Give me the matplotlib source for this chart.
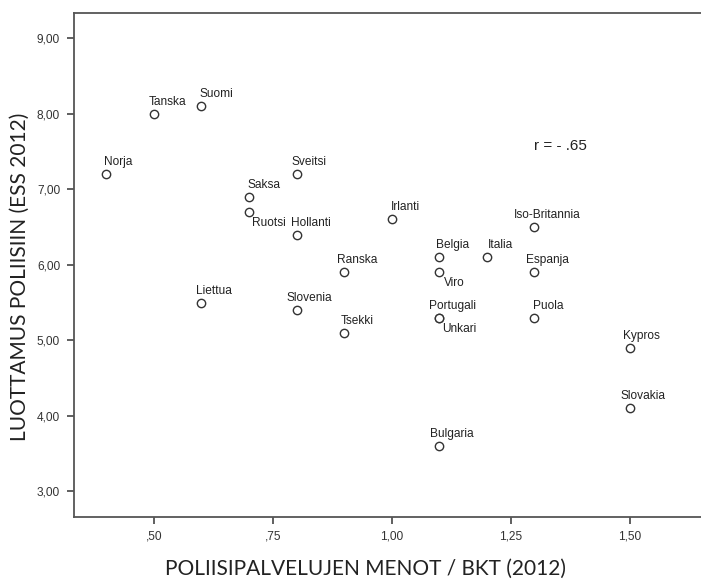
import matplotlib
matplotlib.use("Agg")
import matplotlib.pyplot as plt

countries = ["Norja", "Tanska", "Suomi", "Saksa", "Ruotsi", "Sveitsi", "Hollanti",
             "Liettua", "Slovenia", "Ranska", "Tsekki", "Irlanti", "Belgia", "Viro",
             "Portugali", "Unkari", "Italia", "Iso-Britannia", "Espanja", "Puola",
             "Kypros", "Slovakia", "Bulgaria"]
spending = [0.40, 0.50, 0.60, 0.70, 0.70, 0.80, 0.80,
            0.60, 0.80, 0.90, 0.90, 1.00, 1.10, 1.10,
            1.10, 1.10, 1.20, 1.30, 1.30, 1.30,
            1.50, 1.50, 1.10]
trust = [7.2, 8.0, 8.1, 6.9, 6.7, 7.2, 6.4,
         5.5, 5.4, 5.9, 5.1, 6.6, 6.1, 5.9,
         5.3, 5.3, 6.1, 6.5, 5.9, 5.3,
         4.9, 4.1, 3.6]
x_ticks = [0.50, 0.75, 1.00, 1.25, 1.50]
x_ticklabels = [",50", ",75", "1,00", "1,25", "1,50"]
y_ticks = [3, 4, 5, 6, 7, 8, 9]
y_ticklabels = ["3,00", "4,00", "5,00", "6,00", "7,00", "8,00", "9,00"]
r_text = "r = - .65"
x_title = "POLIISIPALVELUJEN MENOT / BKT (2012)"
y_title = "LUOTTAMUS POLIISIIN (ESS 2012)"

# label offsets in pixels (dx, dy) relative to the point; default above
offsets = {
    "Tanska": (-5, 12), "Ruotsi": (3, -11), "Viro": (5, -11), "Unkari": (3, -11),
    "Iso-Britannia": (-21, 12), "Portugali": (-10, 12), "Bulgaria": (-9, 12),
    "Kypros": (-7, 12), "Slovakia": (-9, 12), "Liettua": (-5, 12),
    "Slovenia": (-10, 12), "Ranska": (-7, 12), "Tsekki": (-3, 12),
    "Hollanti": (-6, 12), "Espanja": (-8, 12), "Sveitsi": (-5, 12),
    "Italia": (1, 12), "Irlanti": (-1, 12), "Belgia": (-3, 12), "Puola": (-1, 12),
}

W, H = 701, 581
fig = plt.figure(figsize=(W / 100, H / 100), dpi=100)
ax = fig.add_axes([74 / W, 1 - 516.7 / H, 1 - 74 / W + 0.01, (516.7 - 13.3) / H])

ax.plot(spending, trust, linestyle="none", marker="o", markersize=6,
        markerfacecolor="white", markeredgecolor="#333333", markeredgewidth=1.0)

for name, x, y in zip(countries, spending, trust):
    dx, dy = offsets.get(name, (-2, 12))
    ax.annotate(name, (x, y), xytext=(dx * 0.72, dy * 0.72), textcoords="offset points",
                ha="left", va="center", fontsize=8.6, family="Liberation Sans", color="#222222")

ax.text(1.30, 7.57, r_text, fontsize=11, family="Liberation Sans", color="#222222",
        ha="left", va="center")

ax.set_xlim(0.332, 1.665)
ax.set_ylim(2.665, 9.33)
ax.set_xticks(x_ticks)
ax.set_xticklabels(x_ticklabels)
ax.set_yticks(y_ticks)
ax.set_yticklabels(y_ticklabels)
for lab in ax.get_xticklabels() + ax.get_yticklabels():
    lab.set_family("Liberation Sans")
    lab.set_fontsize(8.6)
    lab.set_color("#333333")
ax.tick_params(direction="out", length=5, width=1.2, color="#444444", pad=5)
for s in ["left", "bottom", "top"]:
    ax.spines[s].set_color("#555555")
    ax.spines[s].set_linewidth(1.3)
ax.spines["right"].set_visible(False)

fig.text(365.5 / W, 1 - 575 / H, x_title, fontsize=15, family="Lato",
         color="#222222", ha="center", va="baseline")
fig.text(20 / W, 1 - 276.5 / H, y_title, fontsize=15, family="Lato",
         color="#222222", ha="center", va="center", rotation=90)

fig.savefig("out.png", dpi=100)
